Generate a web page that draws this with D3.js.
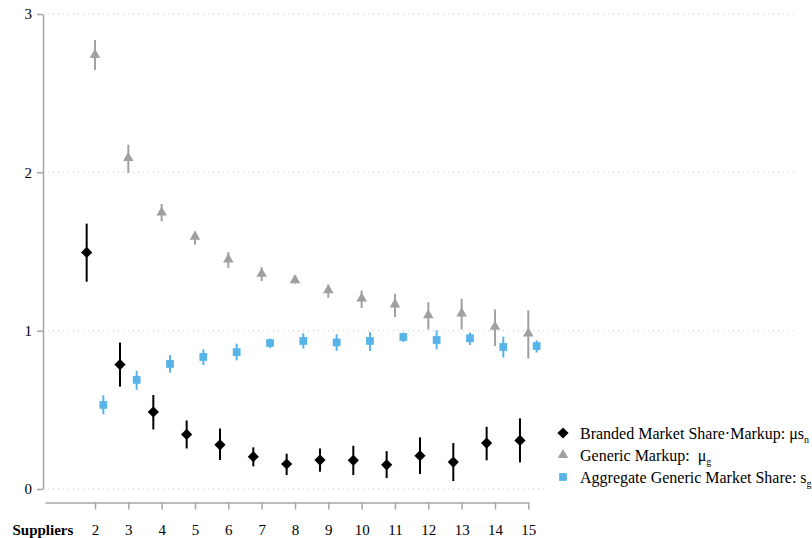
<!DOCTYPE html>
<html>
<head>
<meta charset="utf-8">
<script src="https://cdn.jsdelivr.net/npm/d3@7"></script>
<style>
  html, body { margin: 0; padding: 0; background: #fff; }
  svg { display: block; }
  svg text { font-family: "Liberation Serif", "DejaVu Serif", serif; }
</style>
</head>
<body>
<svg id="chart" width="812" height="538"></svg>
<script>
// ---- Data ----
const suppliers = [2, 3, 4, 5, 6, 7, 8, 9, 10, 11, 12, 13, 14, 15];

// Branded Market Share·Markup (μ s_n)
const brandedVal = [1.494, 0.786, 0.487, 0.345, 0.279, 0.204, 0.158, 0.183, 0.181, 0.153, 0.210, 0.170, 0.290, 0.307];
const brandedLo  = [1.309, 0.647, 0.376, 0.256, 0.183, 0.143, 0.088, 0.109, 0.088, 0.069, 0.095, 0.050, 0.181, 0.168];
const brandedHi  = [1.676, 0.925, 0.594, 0.433, 0.382, 0.263, 0.223, 0.256, 0.273, 0.239, 0.326, 0.290, 0.393, 0.446];

// Generic Markup (μ_g)
const markupVal = [2.742, 2.090, 1.746, 1.594, 1.450, 1.359, 1.319, 1.256, 1.204, 1.166, 1.097, 1.109, 1.025, 0.983];
const markupLo  = [2.647, 1.996, 1.690, 1.544, 1.397, 1.313, 1.298, 1.208, 1.143, 1.086, 1.008, 1.008, 0.903, 0.824];
const markupHi  = [2.836, 2.174, 1.800, 1.626, 1.496, 1.401, 1.342, 1.292, 1.254, 1.233, 1.180, 1.202, 1.134, 1.128];

// Aggregate Generic Market Share (s_g)
const shareVal = [0.531, 0.689, 0.790, 0.834, 0.865, 0.922, 0.935, 0.926, 0.935, 0.960, 0.941, 0.952, 0.897, 0.903];
const shareLo  = [0.473, 0.626, 0.735, 0.783, 0.813, 0.891, 0.887, 0.872, 0.872, 0.928, 0.882, 0.909, 0.830, 0.862];
const shareHi  = [0.592, 0.746, 0.845, 0.882, 0.918, 0.950, 0.983, 0.977, 0.991, 0.988, 1.002, 0.988, 0.962, 0.939];

const yTicks = [0, 1, 2, 3];
const xTitle = "Suppliers";

// ---- Layout ----
const FONT = "Liberation Serif";
const svg = d3.select("#chart");
const x = d3.scaleLinear().domain([0.5, 15]).range([45, 528.3]);
const y = d3.scaleLinear().domain([0, 3]).range([489, 14]);
const offset = 0.25;

const axisColor = "#a6a6a6";
const fontSize = 15;

// Gridlines
svg.append("g").selectAll("line").data(yTicks).join("line")
  .attr("x1", 48).attr("x2", 797)
  .attr("y1", d => y(d)).attr("y2", d => y(d))
  .attr("stroke", "#c8c8c8").attr("stroke-width", 1)
  .attr("stroke-dasharray", "1,4");

// Y axis
const yAxis = svg.append("g").attr("transform", "translate(43,0)")
  .call(d3.axisLeft(y).tickValues(yTicks).tickFormat(d3.format("d")).tickSize(6).tickSizeOuter(0).tickPadding(5));
yAxis.attr("font-family", FONT).attr("font-size", fontSize);
yAxis.select(".domain").attr("stroke", axisColor).attr("stroke-width", 1.5);
yAxis.selectAll(".tick line").attr("stroke", axisColor).attr("stroke-width", 1.5);
yAxis.selectAll(".tick text").attr("fill", "#000");

// X axis
const xAxis = svg.append("g").attr("transform", "translate(0,502.5)")
  .call(d3.axisBottom(x).tickValues(suppliers).tickFormat(d3.format("d")).tickSize(7).tickSizeOuter(0).tickPadding(0));
xAxis.attr("font-family", FONT).attr("font-size", fontSize);
xAxis.select(".domain").attr("stroke", axisColor).attr("stroke-width", 1.5);
xAxis.selectAll(".tick line").attr("stroke", axisColor).attr("stroke-width", 1.5);
xAxis.selectAll(".tick text").attr("fill", "#000").attr("y", 32).attr("dy", null);

svg.append("text").attr("x", 12.5).attr("y", 534.5)
  .attr("font-family", FONT)
  .attr("font-size", fontSize).attr("font-weight", "bold").attr("fill", "#000")
  .text(xTitle);

// ---- Series ----
const series = [
  { name: "branded", val: brandedVal, lo: brandedLo, hi: brandedHi, dx: -offset, color: "#000000", symbol: d3.symbolDiamond, size: 62 },
  { name: "markup", val: markupVal, lo: markupLo, hi: markupHi, dx: 0, color: "#a0a0a0", symbol: d3.symbolTriangle, size: 48 },
  { name: "share", val: shareVal, lo: shareLo, hi: shareHi, dx: offset, color: "#56b4e9", symbol: d3.symbolSquare, size: 60 }
];

// Stata-like diamond: square rotated 45 degrees
function diamondPath(r) {
  return `M0,${-r}L${r},0L0,${r}L${-r},0Z`;
}

series.forEach(s => {
  const g = svg.append("g");
  const pts = suppliers.map((n, i) => ({ n, v: s.val[i], lo: s.lo[i], hi: s.hi[i] }));
  g.selectAll("line").data(pts).join("line")
    .attr("x1", d => x(d.n + s.dx)).attr("x2", d => x(d.n + s.dx))
    .attr("y1", d => y(d.lo)).attr("y2", d => y(d.hi))
    .attr("stroke", s.color).attr("stroke-width", 2);
  g.selectAll("path").data(pts).join("path")
    .attr("transform", d => `translate(${x(d.n + s.dx)},${y(d.v)})`)
    .attr("d", s.name === "branded" ? diamondPath(5.6) : d3.symbol().type(s.symbol).size(s.size)())
    .attr("fill", s.color);
});

// ---- Legend ----
const legend = svg.append("g");
legend.append("rect").attr("x", 548).attr("y", 416).attr("width", 264).attr("height", 78).attr("fill", "#fff");
const legItems = [
  { main: "Branded Market Share\u00B7Markup: \u03BCs", sub: "n", s: series[0] },
  { main: "Generic Markup:  \u03BC", sub: "g", s: series[1] },
  { main: "Aggregate Generic Market Share: s", sub: "g", s: series[2] }
];
const legY = [433, 455, 477];
legItems.forEach((it, i) => {
  const cy = legY[i];
  legend.append("path")
    .attr("transform", `translate(563,${cy})`)
    .attr("d", it.s.name === "branded" ? diamondPath(5.6) : d3.symbol().type(it.s.symbol).size(it.s.size)())
    .attr("fill", it.s.color);
  const t = legend.append("text").attr("x", 580).attr("y", cy + 5.5)
    .attr("font-family", FONT)
    .attr("font-size", 16).attr("fill", "#000")
    .style("white-space", "pre");
  t.append("tspan").text(it.main);
  t.append("tspan").attr("font-size", 10).attr("dy", 4).text(it.sub);
});
</script>
</body>
</html>
